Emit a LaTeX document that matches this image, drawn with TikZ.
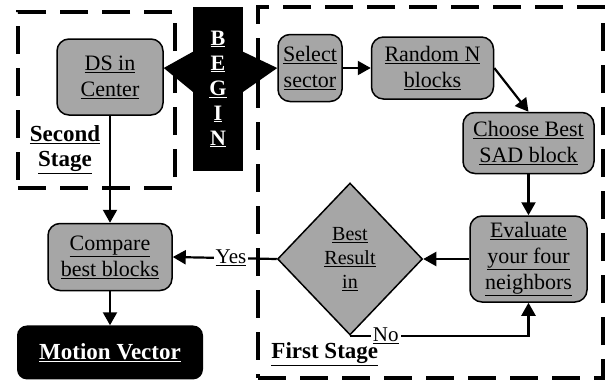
\documentclass[tikz,border=0pt]{standalone}
\usepackage{fontspec}
\setmainfont{Liberation Serif}
\usepackage{tikz}
\usetikzlibrary{arrows.meta,positioning,calc,shapes.geometric}
\tikzset{
  % Base styles
  diagram base/.style={
    >={Triangle[length=13pt,width=14pt]},
    every node/.style={font=\fontsize{22}{26}\selectfont},
    node distance=20pt,
  },
  % Flow chart nodes
  process node/.style={rectangle, draw, line width=1.5pt, rounded corners=12pt, fill=black!35, align=center, inner sep=2pt},
  decision node/.style={diamond, draw, line width=1.5pt, fill=black!35, align=center, inner sep=0pt, font=\fontsize{20}{24}\selectfont},
  terminal node/.style={rectangle, fill=black, text=white, rounded corners=10pt, inner sep=2pt, font=\bfseries\fontsize{23}{27}\selectfont},
  begin node/.style={rectangle, fill=black, text=white, align=center, inner sep=0pt, font=\bfseries\fontsize{22}{25}\selectfont},
  % Stage frames
  stage box/.style={rectangle, draw, line width=3.5pt, dash pattern=on 28pt off 14pt, inner sep=0pt},
  stage label/.style={align=center, inner sep=0pt, font=\bfseries\fontsize{23}{25}\selectfont},
  % Connectors
  flow/.style={->, line width=2.2pt},
  edge label/.style={fill=white, inner sep=2pt, font=\fontsize{21}{24}\selectfont},
}

\begin{document}
\begin{tikzpicture}[diagram base]
\useasboundingbox (0,0) rectangle (606pt,-383pt);

% Stage frames
\node[stage box, minimum width=157pt, minimum height=176pt] (second) at (96.5pt,-100pt) {};
\node[stage box, minimum width=345pt, minimum height=371pt] (first) at (430.5pt,-192.5pt) {};
\node[stage label] (secondlbl) at (65pt,-150pt) {\underline{Second}\\\underline{Stage}};
\node[stage label, anchor=south west] (firstlbl) at ($(first.south west)+(15pt,14pt)$) {\underline{First Stage}};

% Second stage column
\node[process node, minimum width=106pt, minimum height=76pt] (ds) at (110pt,-77pt) {\underline{DS in}\\\underline{Center}};
\node[process node, minimum width=124pt, minimum height=67pt, below=107pt of ds] (compare) {\underline{Compare}\\\underline{best blocks}};
\node[terminal node, minimum width=186pt, minimum height=54pt, below=34pt of compare] (motion) {\underline{Motion Vector}};

% Start marker
\node[begin node, minimum width=50pt, minimum height=164pt] (begin) at (218pt,-89pt)
  {\underline{B}\\\underline{E}\\\underline{G}\\\underline{I}\\\underline{N}};

% First stage loop
\node[process node, minimum width=64pt, minimum height=67pt] (select) at (310pt,-68pt) {\underline{Select}\\\underline{sector}};
\node[process node, minimum width=122pt, minimum height=62pt, right=28pt of select] (random) {\underline{Random N}\\\underline{blocks}};
\node[process node, minimum width=131pt, minimum height=61pt, below right=12pt and -32pt of random] (choose) {\underline{Choose Best}\\\underline{SAD block}};
\node[process node, minimum width=117pt, minimum height=86pt, below=41pt of choose] (evaluate) {\underline{Evaluate}\\\underline{your four}\\\underline{neighbors}};
\node[decision node, minimum width=145pt, minimum height=152pt, left=46pt of evaluate] (best) {\underline{Best}\\\underline{Result}\\\underline{in}};

% Begin points both ways
\fill ($(begin.north west)+(0,-45pt)$) -- (ds.east |- select.west) -- ($(begin.north west)+(0,-85pt)$) -- cycle;
\fill ($(begin.north east)+(0,-45pt)$) -- (select.west) -- ($(begin.north east)+(0,-85pt)$) -- cycle;

% Edges
\draw[flow] (select) -- (random);
\draw[flow] (random.east) -- (choose.north);
\draw[flow] (choose) -- (evaluate);
\draw[flow] (evaluate) -- (best);
\draw[flow] (best.west) -- node[edge label, pos=0.44] {\underline{Yes}} (compare.east);
\draw[flow] (best.south) -| node[edge label, pos=0.1] {\underline{No}} (evaluate.south);
\draw[flow] (ds) -- (compare);
\draw[flow] (compare) -- (motion);
\end{tikzpicture}
\end{document}
